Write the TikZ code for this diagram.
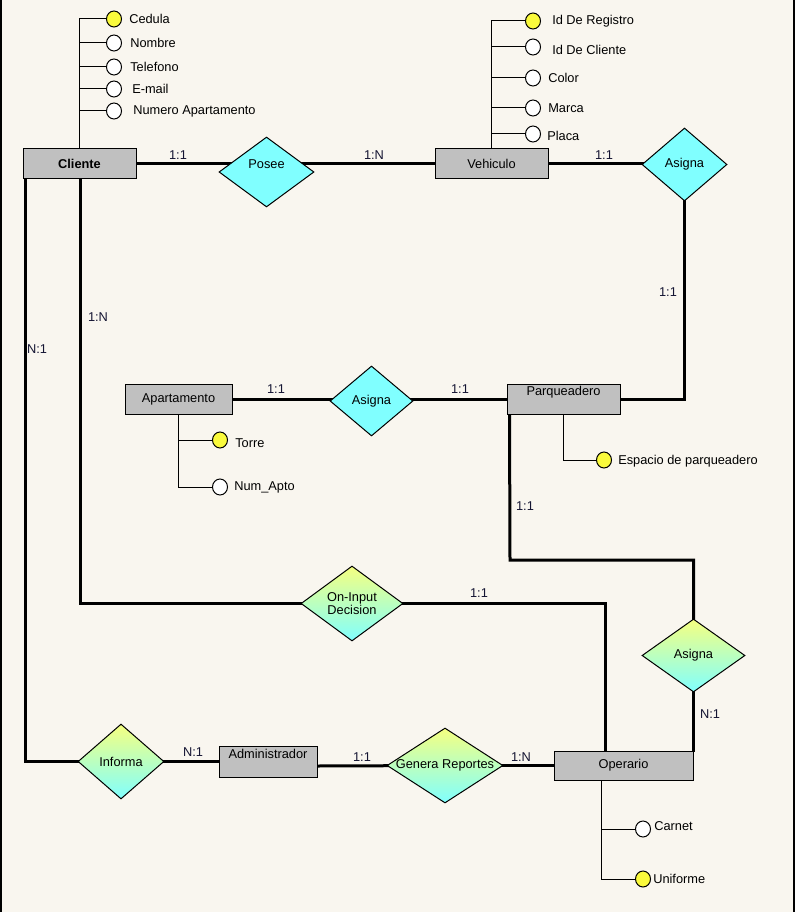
\documentclass[tikz,border=0pt]{standalone}
\usepackage{fontspec}
\setmainfont{Liberation Sans}
\usetikzlibrary{shapes.geometric}
\pgfdeclarelayer{paperlayer}
\pgfdeclarelayer{bg}
\pgfsetlayers{paperlayer,bg,main}
\newcommand\pxl[1]{#1*0.75pt}
\definecolor{paper}{RGB}{249,246,239}
\definecolor{boxgray}{RGB}{192,192,192}
\definecolor{relcyan}{RGB}{128,255,255}
\definecolor{reltop}{RGB}{245,255,128}
\definecolor{keyyel}{RGB}{250,250,60}
\definecolor{cardtxt}{RGB}{20,20,50}
\tikzset{
  every node/.style={font=\fontsize{9.6}{11}\selectfont, inner sep=0pt},
  entbox/.style={draw=black, line width=0.75pt, fill=boxgray, rectangle},
  relcy/.style={draw=black, line width=0.75pt, fill=relcyan, diamond},
  relgr/.style={draw=black, line width=0.75pt, diamond, top color=reltop, bottom color=relcyan, shading angle=0},
  attrc/.style={draw=black, line width=0.75pt, fill=white, ellipse, minimum width=\pxl{15}, minimum height=\pxl{16}},
  keyc/.style={attrc, fill=keyyel},
  attrtxt/.style={anchor=west, text=black},
  link/.style={line width=2.25pt, line cap=rect},
  attrline/.style={line width=0.75pt, black},
  card/.style={text=cardtxt},
}
\begin{document}
\begin{tikzpicture}[x=0.75pt, y=-0.75pt]
\useasboundingbox (0,0) rectangle (795,912);
\begin{pgfonlayer}{paperlayer}
\fill[paper] (0,0) rectangle (795,912);
\draw[line width=1.5pt] (1,0) -- (1,912);
\draw[line width=1.5pt] (794,0) -- (794,912);
\end{pgfonlayer}

% entities
\node[entbox, minimum width=\pxl{113}, minimum height=\pxl{30}] (cliente) at (79.5,164) {\bfseries Cliente};
\node[entbox, minimum width=\pxl{113}, minimum height=\pxl{30}] (vehi) at (491.5,164) {Vehiculo};
\node[entbox, minimum width=\pxl{107}, minimum height=\pxl{30}] (apt) at (178.5,399) {Apartamento};
\node[entbox, minimum width=\pxl{113}, minimum height=\pxl{30}, label={[yshift=\pxl{7}]center:Parqueadero}] (parq) at (563.5,399) {};
\node[entbox, minimum width=\pxl{98}, minimum height=\pxl{31}, label={[yshift=\pxl{7.5}]center:Administrador}] (adm) at (268,761.5) {};
\node[entbox, minimum width=\pxl{139}, minimum height=\pxl{29}] (oper) at (623.5,765.5) {Operario};

% relationships
\node[relcy, minimum width=\pxl{95}, minimum height=\pxl{70}, label={[yshift=\pxl{8}]center:Posee}] (posee) at (266.5,172) {};
\node[relcy, minimum width=\pxl{85}, minimum height=\pxl{73}] (asignaT) at (684.5,164.5) {Asigna};
\node[relcy, minimum width=\pxl{83}, minimum height=\pxl{70}] (asignaM) at (371.5,401) {Asigna};
\node[relgr, minimum width=\pxl{102}, minimum height=\pxl{75}, label={[align=center]center:On-Input\\[-1pt]Decision}] (onin) at (352,603.5) {};
\node[relgr, minimum width=\pxl{103}, minimum height=\pxl{73}] (asignaL) at (693.5,655.5) {Asigna};
\node[relgr, minimum width=\pxl{116}, minimum height=\pxl{75}, label={center:Genera Reportes}] (gen) at (445,765.5) {};
\node[relgr, minimum width=\pxl{86}, minimum height=\pxl{75}] (inf) at (121,761.5) {Informa};

% attributes: Cliente
\node[keyc]  (c1) at (114,19)  {};
\node[attrc] (c2) at (114,43)  {};
\node[attrc] (c3) at (114,67)  {};
\node[attrc] (c4) at (114,89)  {};
\node[attrc] (c5) at (114,111) {};
\node[attrtxt] (c1t) at (129,19)  {Cedula};
\node[attrtxt] (c2t) at (130,43)  {Nombre};
\node[attrtxt] (c3t) at (130,67)  {Telefono};
\node[attrtxt] (c4t) at (132,89)  {E-mail};
\node[attrtxt] (c5t) at (133,111) {Numero Apartamento};

% attributes: Vehiculo
\node[keyc]  (v1) at (533,21)  {};
\node[attrc] (v2) at (533,47)  {};
\node[attrc] (v3) at (533,78)  {};
\node[attrc] (v4) at (533,108) {};
\node[attrc] (v5) at (533,134) {};
\node[attrtxt] (v1t) at (552,21)  {Id De Registro};
\node[attrtxt] (v2t) at (552,50)  {Id De Cliente};
\node[attrtxt] (v3t) at (548,78)  {Color};
\node[attrtxt] (v4t) at (548,108) {Marca};
\node[attrtxt] (v5t) at (547,136) {Placa};

% attributes: Apartamento
\node[keyc]  (a1) at (220,440) {};
\node[attrc] (a2) at (220,487) {};
\node[attrtxt] (a1t) at (235,443) {Torre};
\node[attrtxt] (a2t) at (234,487) {Num\_Apto};

% attributes: Parqueadero
\node[keyc] (p1) at (604,460) {};
\node[attrtxt] (p1t) at (618,461) {Espacio de parqueadero};

% attributes: Operario
\node[attrc] (o1) at (643,829) {};
\node[keyc]  (o2) at (643,879) {};
\node[attrtxt] (o1t) at (654,826) {Carnet};
\node[attrtxt] (o2t) at (653,879) {Uniforme};

% cardinality labels
\node[card] (k1)  at (178,155) {1:1};
\node[card] (k2)  at (374,155) {1:N};
\node[card] (k3)  at (604,155) {1:1};
\node[card] (k4)  at (668,292) {1:1};
\node[card] (k5)  at (37,349)  {N:1};
\node[card] (k6)  at (98,317)  {1:N};
\node[card] (k7)  at (276,389) {1:1};
\node[card] (k8)  at (460,389) {1:1};
\node[card] (k9)  at (525,506) {1:1};
\node[card] (k10) at (479,593) {1:1};
\node[card] (k11) at (710,714) {N:1};
\node[card] (k12) at (193,752) {N:1};
\node[card] (k13) at (362,757) {1:1};
\node[card] (k14) at (521,757) {1:N};

\begin{pgfonlayer}{bg}
  % attribute lines
  \foreach \n in {c1,c2,c3,c4,c5} \draw[attrline] (cliente.north) |- (\n.west);
  \foreach \n in {v1,v2,v3,v4,v5} \draw[attrline] (vehi.north) |- (\n.west);
  \foreach \n in {a1,a2} \draw[attrline] (apt.south) |- (\n.west);
  \draw[attrline] (parq.south) |- (p1.west);
  \foreach \n in {o1,o2} \draw[attrline] ([xshift=-\pxl{22.5}]oper.south) |- (\n.west);
  % relationship links
  \draw[link] (cliente.east) -- (cliente.east -| posee.center);
  \draw[link] (posee.center |- vehi.west) -- (vehi.west);
  \draw[link] (vehi.east) -- (vehi.east -| asignaT.center);
  \draw[link] (asignaT.center) |- (parq.east);
  \draw[link] (apt.east) -- (apt.east -| asignaM.center);
  \draw[link] (asignaM.center |- parq.west) -- (parq.west);
  \coordinate (pturn) at (510,560);
  \draw[link] ([xshift=\pxl{3}]parq.south west) -- (pturn) -| (asignaL.center);
  \draw[link] (asignaL.center) -- (asignaL.center |- oper.north);
  \draw[link] ([xshift=\pxl{0.5}]cliente.south) |- (onin.center);
  \draw[link] (onin.center) -| ([xshift=-\pxl{18.5}]oper.north);
  \draw[link] ([xshift=\pxl{3}]cliente.south west) |- (inf.center);
  \draw[link] (inf.center) -- (adm.west);
  \draw[link] ([yshift=-\pxl{4.5}]adm.east) -- (gen.center);
  \draw[link] (gen.center) -- (oper.west);
\end{pgfonlayer}
\end{tikzpicture}
\end{document}
